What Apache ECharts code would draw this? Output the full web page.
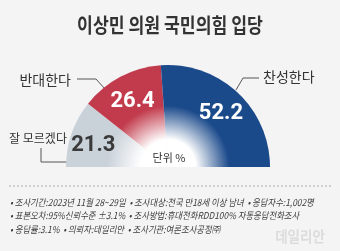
<!DOCTYPE html>
<html>
<head>
<meta charset="utf-8">
<script src="https://cdn.jsdelivr.net/npm/echarts@6/dist/echarts.min.js"></script>
<style>
html,body{margin:0;padding:0;background:#f5f4f4;}
#main{width:340px;height:251px;}
</style>
</head>
<body>
<div id="main"></div>
<script>
// 데이터
var categories = ['잘 모르겠다', '반대한다', '찬성한다'];
var values = [21.3, 26.4, 52.2];
var colors = ['#c9d1d9', '#c23b4c', '#1b4a8b'];
var valueColors = ['#3a3a3a', '#ffffff', '#ffffff'];
var chartTitle = '이상민 의원 국민의힘 입당';
var unitText = '단위 %';
var notes = [
    '• 조사기간:2023년 11월 28~29일  • 조사대상:전국 만18세 이상 남녀  • 응답자수:1,002명',
    '• 표본오차:95%신뢰수준 ±3.1%  • 조사방법:휴대전화RDD100% 자동응답전화조사',
    '• 응답률:3.1%  • 의뢰자:데일리안  • 조사기관:여론조사공정㈜'
];
var sourceText = '데일리안';

var cx = 168, cy = 167, R = 102;
var FONT = '"Noto Sans CJK KR", "Noto Sans", sans-serif';

// 바깥 라벨 위치 (라벨, 연결선)
var outLabels = [
    { x: 38, y: 138.5, align: 'center', size: 12, line: [[67, 162], [41, 162], [41, 148]] },
    { x: 71, y: 80, align: 'right', size: 14, line: [[105, 89], [96, 79], [77, 79]] },
    { x: 263, y: 77, align: 'left', size: 14, line: [[236, 90], [243, 78], [259, 78]] }
];
// 수치 라벨 미세 조정
var valueShift = [[-2, 4], [0.5, 3], [0.5, 2.5]];

function fadeColor(c) {
    return {
        type: 'radial', x: cx, y: cy, r: R, global: true,
        colorStops: [
            { offset: 0, color: '#ffffff' },
            { offset: 0.27, color: '#ffffff' },
            { offset: 0.6, color: c },
            { offset: 1, color: c }
        ]
    };
}

var pieData = [];
var valueData = [];
categories.forEach(function (v, i) {
    pieData.push({
        name: v, value: values[i],
        itemStyle: { color: fadeColor(colors[i]) },
        label: { fontSize: outLabels[i].size }
    });
    valueData.push({
        name: v, value: values[i],
        label: { color: valueColors[i] }
    });
});

var noteStyle = 'italic 9.5px ' + FONT;

var myChart = echarts.init(document.getElementById('main'));
myChart.setOption({
    backgroundColor: '#f5f4f4',
    animation: false,
    graphic: [
        {
            type: 'text', x: 170, y: 25, scaleX: 0.86,
            style: { text: chartTitle, align: 'center', verticalAlign: 'middle', fill: '#333', font: 'bold 20px ' + FONT }
        },
        {
            type: 'text', x: 169, y: 158, z: 10,
            style: { text: unitText, align: 'center', verticalAlign: 'middle', fill: '#333', font: '11px ' + FONT }
        },
        {
            type: 'line', shape: { x1: 9, y1: 186, x2: 332, y2: 186 },
            style: { stroke: '#aaa', lineWidth: 1, lineDash: [2, 2] }
        },
        {
            type: 'text', x: 10, y: 202, scaleX: 0.88,
            style: { text: notes[0], verticalAlign: 'middle', fill: '#3c3c3c', font: noteStyle }
        },
        {
            type: 'text', x: 10, y: 215.5, scaleX: 0.88,
            style: { text: notes[1], verticalAlign: 'middle', fill: '#3c3c3c', font: noteStyle }
        },
        {
            type: 'text', x: 10, y: 229.5, scaleX: 0.88,
            style: { text: notes[2], verticalAlign: 'middle', fill: '#3c3c3c', font: noteStyle }
        },
        {
            type: 'text', x: 300, y: 236, scaleX: 0.9,
            style: { text: sourceText, align: 'center', verticalAlign: 'middle', fill: '#dcdcdc', font: 'bold 15px ' + FONT }
        }
    ],
    series: [
        {
            name: '응답',
            type: 'pie',
            center: [cx, cy],
            radius: [0, R],
            startAngle: 180,
            endAngle: 0,
            clockwise: true,
            silent: true,
            avoidLabelOverlap: false,
            data: pieData,
            label: {
                show: true,
                position: 'outside',
                formatter: '{b}',
                color: '#333',
                fontSize: 14,
                fontFamily: FONT,
                overflow: 'none'
            },
            labelLine: {
                show: true,
                lineStyle: { color: '#555', width: 1 }
            },
            labelLayout: function (params) {
                var o = outLabels[params.dataIndex];
                return {
                    x: o.x, y: o.y,
                    align: o.align,
                    verticalAlign: 'middle',
                    labelLinePoints: o.line
                };
            }
        },
        {
            name: '수치',
            type: 'pie',
            center: [cx, cy],
            radius: [46, R],
            startAngle: 180,
            endAngle: 0,
            clockwise: true,
            silent: true,
            z: 5,
            itemStyle: { color: 'rgba(0,0,0,0)' },
            data: valueData,
            label: {
                show: true,
                position: 'inside',
                formatter: '{c}',
                fontSize: 22,
                fontWeight: 'bold',
                fontFamily: 'Roboto, "Liberation Sans", sans-serif'
            },
            labelLine: { show: false },
            labelLayout: function (params) {
                var s = valueShift[params.dataIndex];
                return { dx: s[0], dy: s[1] };
            }
        }
    ]
});
</script>
</body>
</html>
